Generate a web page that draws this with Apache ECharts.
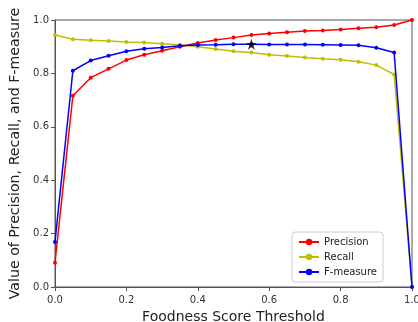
<!DOCTYPE html>
<html><head><meta charset="utf-8">
<script src="https://cdn.jsdelivr.net/npm/echarts@6/dist/echarts.min.js"></script>
<style>html,body{margin:0;padding:0;background:#fff}#c{width:418px;height:322px}</style>
</head><body><div id="c"></div>
<script>
const thresholds = [0,0.05,0.1,0.15,0.2,0.25,0.3,0.35,0.4,0.45,0.5,0.55,0.6,0.65,0.7,0.75,0.8,0.85,0.9,0.95,1.0];
const precision = [0.091,0.716,0.784,0.817,0.850,0.870,0.885,0.900,0.914,0.925,0.934,0.944,0.949,0.954,0.959,0.961,0.964,0.969,0.973,0.981,1.0];
const recall = [0.944,0.928,0.924,0.921,0.918,0.916,0.911,0.907,0.900,0.891,0.883,0.878,0.870,0.865,0.860,0.855,0.851,0.844,0.831,0.796,0.0];
const fmeasure = [0.169,0.810,0.848,0.866,0.883,0.892,0.897,0.904,0.906,0.907,0.909,0.909,0.908,0.908,0.908,0.907,0.906,0.905,0.896,0.878,0.0];
const bestPoint = [0.55, 0.909];
const seriesNames = ['Precision','Recall','F-measure'];
const colors = ['#ff0000','#bfbf00','#0000ff'];

const pair = arr => thresholds.map((t,i)=>[t,arr[i]]);
const star = 'path://M50,0 L61.8,35.3 L99,35.3 L69,57.3 L80.4,92.7 L50,70.9 L19.6,92.7 L31,57.3 L1,35.3 L38.2,35.3 Z';
const axisCommon = {
  type:'value', min:0, max:1, interval:0.2,
  axisLine:{show:true,onZero:false,lineStyle:{color:'#555',width:1}},
  axisTick:{show:true,inside:false,length:4,lineStyle:{color:'#555'}},
  axisLabel:{color:'#333',fontSize:10,fontFamily:'DejaVu Sans',formatter:v=>v.toFixed(1)},
  splitLine:{show:false},
  nameLocation:'middle'
};
const chart = echarts.init(document.getElementById('c'),null,{renderer:'canvas'});
chart.setOption({
  animation:false,
  backgroundColor:'#fff',
  grid:{left:55,right:6,top:20,bottom:35,containLabel:false,outerBoundsMode:'none',show:true,borderColor:'#555',borderWidth:1},
  xAxis:Object.assign({},axisCommon,{name:'Foodness Score Threshold',nameGap:21,
    nameTextStyle:{color:'#222',fontSize:14,fontFamily:'DejaVu Sans'}}),
  yAxis:Object.assign({},axisCommon,{name:'Value of Precision, Recall, and F-measure',nameGap:28,
    nameTextStyle:{color:'#222',fontSize:14.2,fontFamily:'DejaVu Sans'},
    axisLabel:Object.assign({},axisCommon.axisLabel,{margin:6})}),
  legend:{
    data:seriesNames, orient:'vertical', right:35, bottom:40,
    backgroundColor:'#fff', borderColor:'#ccc', borderWidth:1, borderRadius:3,
    padding:[5,6,5,6], itemGap:5, itemWidth:20, itemHeight:8,
    textStyle:{fontSize:10,fontFamily:'DejaVu Sans',color:'#222'}
  },
  series:[
    ...[precision,recall,fmeasure].map((arr,k)=>({
      name:seriesNames[k], type:'line', data:pair(arr), color:colors[k],
      symbol:'circle', symbolSize:4, showSymbol:true,
      lineStyle:{width:1.5,color:colors[k]}, itemStyle:{color:colors[k]}, z:2+k
    })),
    {name:'best',type:'scatter',data:[bestPoint],symbol:star,symbolSize:11,itemStyle:{color:'#000'},z:10}
  ]
});
</script></body></html>
